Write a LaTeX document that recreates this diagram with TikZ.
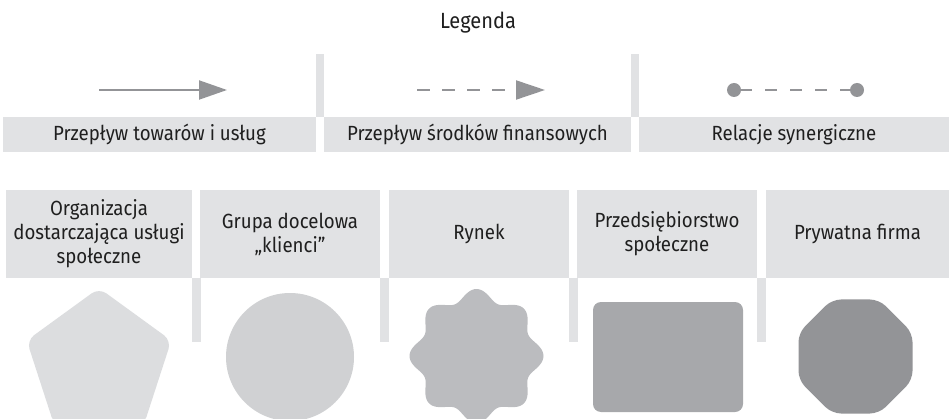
\documentclass[tikz,border=0pt]{standalone}
\usepackage{fontspec}
\setmainfont{Fira Sans}[FakeStretch=0.91]
\usetikzlibrary{arrows.meta}
\definecolor{boxgray}{HTML}{E1E2E4}
\definecolor{linegray}{HTML}{939497}
\definecolor{pentgray}{HTML}{DCDDDF}
\definecolor{circgray}{HTML}{D0D1D3}
\definecolor{stargray}{HTML}{BBBCBF}
\definecolor{rectgray}{HTML}{A7A8AB}
\definecolor{octgray}{HTML}{939497}
\begin{document}
\begin{tikzpicture}[x=1pt,y=-1pt,
  txt/.style={font=\fontsize{20.5}{24}\selectfont,text=black!88},
  lab/.style={txt,fill=boxgray,minimum height=35pt,inner sep=0pt},
  head/.style={txt,fill=boxgray,minimum height=88pt,inner sep=0pt,align=center},
  bar/.style={fill=boxgray},
  flow/.style={draw=linegray,line width=2pt},
  dot/.style={circle,fill=linegray,minimum size=14pt,inner sep=0pt}]
  \path[use as bounding box] (0,0) rectangle (949,419);
  \clip (0,0) rectangle (949,419);
  % legenda
  \node[txt,font=\fontsize{22}{24}\selectfont] (title) at (478,23) {Legenda};
  \fill[bar] (316,54) rectangle (324,117);
  \fill[bar] (631,54) rectangle (639,117);
  \node[lab,minimum width=313pt] (goods) at (159.5,134.5) {Przepływ towarów i usług};
  \node[lab,minimum width=307pt] (money) at (477.5,134.5) {Przepływ środków finansowych};
  \node[lab,minimum width=310pt] (syn) at (794,134.5) {Relacje synergiczne};
  \coordinate (g1) at (99,90);  \coordinate (g2) at (227,90);
  \coordinate (m1) at (417,90); \coordinate (m2) at (545,90);
  \draw[flow,-{Triangle[length=28pt,width=19pt]}] (g1) -- (g2);
  \draw[flow,dash pattern=on 13pt off 12pt,-{Triangle[length=29pt,width=19pt]}] (m1) -- (m2);
  \node[dot] (s1) at (734,90) {};
  \node[dot] (s2) at (857,90) {};
  \draw[flow,dash pattern=on 18pt off 13pt on 12pt off 13pt on 12pt off 13pt on 12pt off 13pt on 30pt] (s1.center) -- (s2.center);
  % podmioty
  \node[head,minimum width=186pt] (org) at (99,234) {Organizacja\\dostarczająca usługi\\społeczne};
  \node[head,minimum width=180pt] (grp) at (290,234) {Grupa docelowa\\„klienci”};
  \node[head,minimum width=180pt] (mkt) at (479,234) {Rynek};
  \node[head,minimum width=180pt] (soc) at (667,234) {Przedsiębiorstwo\\społeczne};
  \node[head,minimum width=183pt] (prv) at (857.5,234) {Prywatna firma};
  \foreach \x in {192,380,569,757}
    \fill[bar] (\x,278) rectangle ++(8.5,64);
  % ksztalty
  \fill[pentgray,rounded corners=9pt,shift={(99,364)}] (-90:76) -- (-18:76) -- (54:76) -- (126:76) -- (198:76) -- cycle;
  \fill[circgray] (290,357) circle (64);
  \fill[stargray,shift={(476.5,356)}] plot[domain=0:360,samples=240,smooth] (\x:{61.5+5.5*cos(8*\x)}) -- cycle;
  \fill[rectgray,rounded corners=8pt] (593,302) rectangle (743,412);
  \fill[octgray,rounded corners=9pt,shift={(855.5,356.5)}] (22.5:61.7) \foreach \a in {67.5,112.5,...,337.5} { -- (\a:61.7) } -- cycle;
\end{tikzpicture}
\end{document}
